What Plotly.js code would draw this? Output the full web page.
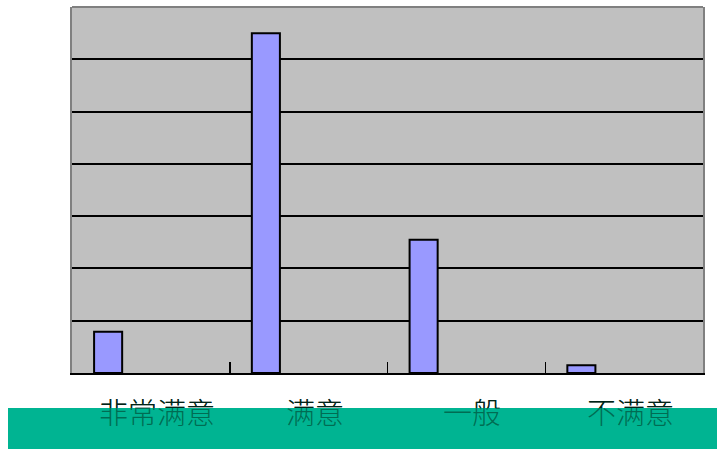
<!DOCTYPE html>
<html>
<head>
<meta charset="utf-8">
<script src="https://cdn.plot.ly/plotly-3.0.1.min.js"></script>
<style>html,body{margin:0;padding:0;background:#fff;}#chart{width:717px;height:449px;}</style>
</head>
<body>
<div id="chart"></div>
<script>
const categories = ['非常满意', '满意', '一般', '不满意'];
const values = [7.9, 65, 25.5, 1.5];
const yMax = 70;
const yStep = 10;

const labelFont = {family: '"Noto Sans CJK SC", sans-serif', size: 29, weight: 300};
const labelY = -0.103;

const annotations = [];
// black labels (base layer)
categories.forEach(c => annotations.push({
  x: c, xref: 'x', y: labelY, yref: 'paper', xshift: 6,
  text: c, showarrow: false, xanchor: 'center', yanchor: 'middle',
  font: Object.assign({}, labelFont, {color: '#000000'})
}));
// teal band covering lower part
annotations.push({
  x: -0.1014, xref: 'paper', y: -0.0956, yref: 'paper',
  xanchor: 'left', yanchor: 'top', text: ' ', showarrow: false,
  width: 707, height: 41, bgcolor: 'rgb(0,180,146)', borderwidth: 0, borderpad: 1
});
// tinted labels over the band
categories.forEach(c => annotations.push({
  x: c, xref: 'x', y: labelY, yref: 'paper', xshift: 6,
  text: c, showarrow: false, xanchor: 'center', yanchor: 'middle',
  font: Object.assign({}, labelFont, {color: 'rgba(0,60,40,0.6)'})
}));

const trace = {
  type: 'bar',
  x: categories,
  y: values,
  offset: -0.36,
  width: 0.178,
  marker: {color: '#9999FF', line: {color: '#000000', width: 2}},
  hoverinfo: 'x+y'
};

const layout = {
  width: 717, height: 449,
  margin: {l: 72, r: 14, t: 7, b: 76},
  paper_bgcolor: '#ffffff',
  plot_bgcolor: '#C0C0C0',
  showlegend: false,
  bargap: 0,
  xaxis: {
    type: 'category', range: [-0.5, 3.5],
    tickson: 'boundaries', ticks: 'inside', ticklen: 11, tickwidth: 1.5, tickcolor: '#000',
    showline: true, linecolor: '#000', linewidth: 2,
    showgrid: false, showticklabels: false, zeroline: false
  },
  yaxis: {
    range: [0, yMax], dtick: yStep, tick0: 0,
    showgrid: true, gridcolor: '#000', gridwidth: 2,
    showline: true, linecolor: '#808080', linewidth: 2, mirror: true,
    showticklabels: false, zeroline: false, ticks: ''
  },
  shapes: [{
    type: 'line', xref: 'paper', yref: 'paper', x0: 0, x1: 1, y0: 1, y1: 1,
    line: {color: '#808080', width: 2}, layer: 'above'
  }],
  annotations: annotations
};

Plotly.newPlot('chart', [trace], layout, {displayModeBar: false, staticPlot: true});
</script>
</body>
</html>
